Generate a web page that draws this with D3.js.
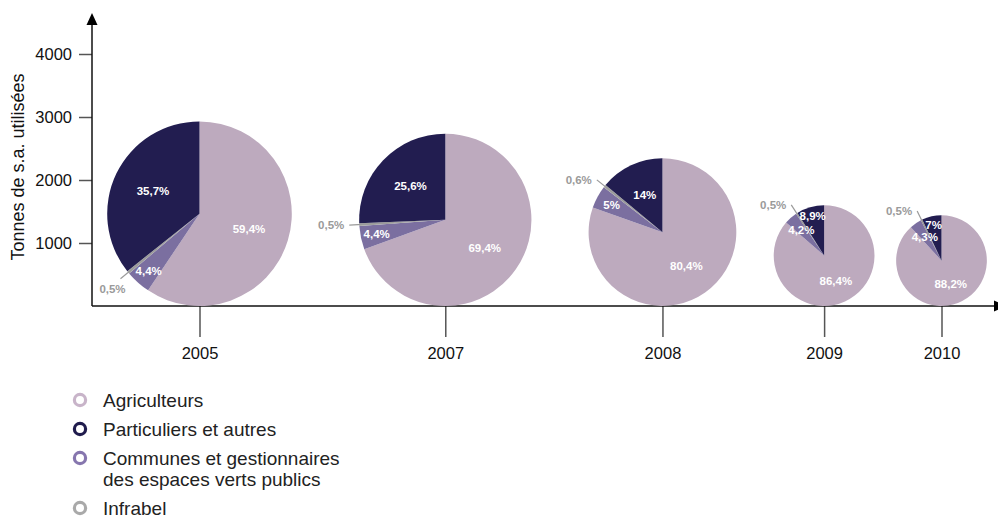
<!DOCTYPE html>
<html>
<head>
<meta charset="utf-8">
<script src="https://cdn.jsdelivr.net/npm/d3@7"></script>
<style>
  body { margin: 0; background: #fff; }
  svg { display: block; font-family: "Liberation Sans", Arial, sans-serif; }
</style>
</head>
<body>
<svg width="998" height="520"></svg>
<script>
// data
var years = ["2005", "2007", "2008", "2009", "2010"];
var totals = [2930, 2735, 2345, 1600, 1440];          // tonnes of s.a. (pie diameter)
var agriculteurs = [59.4, 69.4, 80.4, 86.4, 88.2];
var communes = [4.4, 4.4, 5, 4.2, 4.3];
var infrabel = [0.5, 0.5, 0.6, 0.5, 0.5];
var particuliers = [35.7, 25.6, 14, 8.9, 7];
var yTicks = [1000, 2000, 3000, 4000];

var seriesNames = ["Agriculteurs", "Communes et gestionnaires\ndes espaces verts publics", "Infrabel", "Particuliers et autres"];
var sliceColors = ["#bdaabe", "#7b6fa0", "#a3a3a3", "#221d50"];
var legendOrder = [0, 3, 1, 2];
var legendColors = ["#c8b4c9", "#8676ae", "#a9a9a9", "#201c4d"];

var svg = d3.select("svg");
var fr = d3.formatLocale({decimal: ",", thousands: " ", grouping: [3], currency: ["", "€"]});
var pct = fr.format(".1~f");

var y = d3.scaleLinear().domain([0, 4000]).range([306, 54]);
var axisX = 92;

// pies are set along the axis by cumulated tonnage (they slightly overlap in this space)
var overlap = 320;
var mids = [], acc = 0;
totals.forEach(function (t) { mids.push(acc + t / 2); acc += t - overlap; });
var x = d3.scaleLinear().domain([mids[0], mids[mids.length - 1]]).range([199.5, 941.5]);

function styleTicks(g) {
    g.select(".domain").remove();
    g.selectAll(".tick line").attr("stroke", "#555").attr("stroke-width", 1.5);
    g.selectAll(".tick text").attr("fill", "#111").style("font-size", "16.5px")
        .style("font-family", "'Liberation Sans', Arial, sans-serif");
}

// y axis
svg.append("g")
    .attr("transform", "translate(" + axisX + ",0)")
    .call(d3.axisLeft(y).tickValues(yTicks).tickFormat(d3.format("d")).tickSize(13).tickPadding(7))
    .call(styleTicks);

svg.append("line")
    .attr("x1", axisX).attr("x2", axisX)
    .attr("y1", y(0)).attr("y2", 24)
    .attr("stroke", "#111").attr("stroke-width", 1.5);
svg.append("path")
    .attr("d", "M" + axisX + ",13 L" + (axisX + 5.5) + ",25 L" + (axisX - 5.5) + ",25 Z")
    .attr("fill", "#000");

svg.append("text")
    .attr("transform", "translate(24,167) rotate(-90)")
    .attr("text-anchor", "middle")
    .attr("fill", "#111")
    .style("font-size", "18px")
    .text("Tonnes de s.a. utilisées");

// x axis
svg.append("g")
    .attr("transform", "translate(0," + y(0) + ")")
    .call(d3.axisBottom(x).tickValues(mids).tickFormat(function (d, i) { return years[i]; })
        .tickSize(31).tickPadding(10))
    .call(styleTicks);

svg.append("line")
    .attr("x1", axisX).attr("x2", 996)
    .attr("y1", y(0)).attr("y2", y(0))
    .attr("stroke", "#111").attr("stroke-width", 1.5);
svg.append("path")
    .attr("d", "M1006," + y(0) + " L994," + (y(0) - 5.5) + " L994," + (y(0) + 5.5) + " Z")
    .attr("fill", "#000");

// pies
var pie = d3.pie().sort(null).value(function (d) { return d; });

years.forEach(function (yr, i) {
    var r = (y(0) - y(totals[i])) / 2;
    var cx = x(mids[i]), cy = y(0) - r;
    var vals = [agriculteurs[i], communes[i], infrabel[i], particuliers[i]];
    var arcs = pie(vals);
    var arc = d3.arc().innerRadius(0).outerRadius(r);

    var g = svg.append("g").attr("transform", "translate(" + cx + "," + cy + ")");

    g.selectAll("path.slice")
        .data(arcs)
        .enter().append("path")
        .attr("class", "slice")
        .attr("d", arc)
        .attr("fill", function (d, k) { return sliceColors[k]; });

    arcs.forEach(function (d, k) {
        var mid = (d.startAngle + d.endAngle) / 2;
        var sx = Math.sin(mid), sy = -Math.cos(mid);
        if (k === 2) {
            // Infrabel: outside label with a leader line
            var r0 = r * 0.6, r1 = r + 10;
            var ex = sx * r1, ey = sy * r1;
            g.append("line")
                .attr("x1", sx * r0).attr("y1", sy * r0)
                .attr("x2", ex).attr("y2", ey)
                .attr("stroke", "#9a9a9a").attr("stroke-width", 1.2);
            var below = sy > 0.3;
            g.append("text")
                .attr("x", below ? ex - 8 : ex - 5)
                .attr("y", below ? ey + 10 : ey)
                .attr("dy", "0.35em")
                .attr("text-anchor", below ? "middle" : "end")
                .attr("fill", "#9a9a9a")
                .style("font-size", "11.5px").style("font-weight", "bold")
                .text(pct(d.data) + "%");
        } else {
            var lr;
            if (d.data >= 10) lr = r * 0.56;
            else if (k === 1) lr = r - 16;
            else lr = r - 9;
            g.append("text")
                .attr("x", sx * lr).attr("y", sy * lr)
                .attr("dy", "0.35em")
                .attr("text-anchor", "middle")
                .attr("fill", "#fff")
                .style("font-size", "11.5px").style("font-weight", "bold")
                .text(pct(d.data) + "%");
        }
    });
});

// legend
var rowY = 400;
legendOrder.forEach(function (k) {
    var lines = seriesNames[k].split("\n");
    var lg = svg.append("g").attr("transform", "translate(0," + rowY + ")");
    lg.append("circle")
        .attr("cx", 80).attr("cy", 0).attr("r", 5.6)
        .attr("fill", "#fff")
        .attr("stroke", legendColors[k]).attr("stroke-width", 3.2);
    lines.forEach(function (t, j) {
        lg.append("text")
            .attr("x", 103).attr("y", j * 21)
            .attr("dy", "0.35em")
            .attr("fill", "#222")
            .style("font-size", "19px")
            .text(t);
    });
    rowY += 29 + (lines.length - 1) * 21;
});
</script>
</body>
</html>
